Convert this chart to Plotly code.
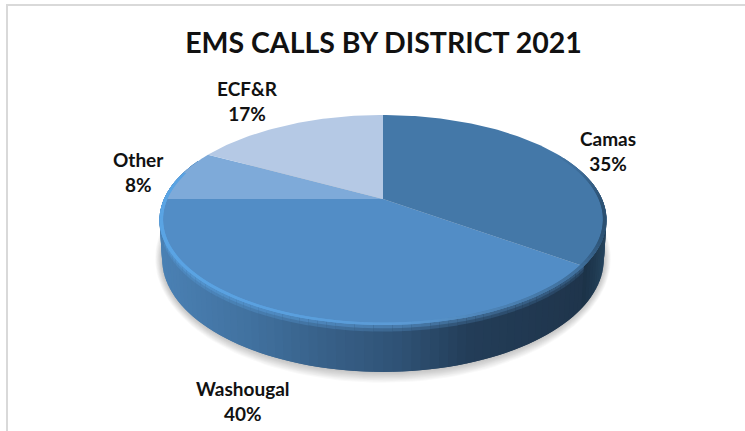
import numpy as np
import plotly.graph_objects as go

# Call shares per district, clockwise from twelve o'clock
districts = ["Camas", "Washougal", "Other", "ECF&R"]
shares = [35, 40, 8, 17]
chart_title = "EMS CALLS BY DISTRICT 2021"

# Styling and placement, kept apart from the data
top_colors = ["#4478a8", "#528dc6", "#7eaad9", "#b5c9e5"]
label_centers = [(608, 151), (243, 401), (138, 172), (247, 101)]
FONT = "Lato"
WIDTH, HEIGHT = 745, 431

# Tilted disc: a circle seen through a simple perspective divide
CX, CY = 383.0, 199.0
RX, RY, PERSP = 219.0, 100.8, 0.2
DEPTH = 37.5


def project(theta_deg, radius=1.0, drop=0.0):
    t = np.radians(theta_deg)
    u, v = radius * np.sin(t), -radius * np.cos(t)
    w = 1 - PERSP * v
    x = CX + RX * u / w * (1 - 0.012 * drop)
    y = CY + RY * v / w + drop * DEPTH / w
    return x, y


def hex_rgb(h):
    return np.array([int(h[i:i + 2], 16) for i in (1, 3, 5)], dtype=float)


def ramp(x, stops):
    xs = [s[0] for s in stops]
    rgb = np.array([hex_rgb(s[1]) for s in stops])
    return np.array([np.interp(x, xs, rgb[:, i]) for i in range(3)])


def css(rgb):
    return "rgb(%d,%d,%d)" % tuple(int(round(float(c))) for c in rgb)


front_wall = [(163, "#4a80b3"), (250, "#41719f"), (330, "#375f87"),
              (400, "#2f5275"), (470, "#233d58"), (580, "#1f354c")]
side_wall = [(580, "#1a2f43"), (595, "#1f3950"), (607, "#26455f")]
rim_stops = [(160, "#5aa4e4"), (300, "#5a9fdd"), (400, "#5b9ad4"),
             (480, "#4f86b9"), (580, "#3f6f9c"), (607, "#2b4f70")]

fig = go.Figure()


def add_poly(xs, ys, color, opacity=1.0):
    fig.add_trace(go.Scatter(
        x=xs, y=ys, mode="lines", fill="toself", fillcolor=color,
        opacity=opacity, hoverinfo="skip", showlegend=False,
        line=dict(color=color, width=0),
    ))


def band(a, b, top, bottom, color):
    # One quad of the wall between two angles and two heights
    span = np.array([a, b])
    xa, ya = project(span, drop=top)
    xb, yb = project(span[::-1], drop=bottom)
    add_poly(list(xa) + list(xb), list(ya) + list(yb), color)


# Soft drop shadow under the disc
ring = np.linspace(0, 360, 181)
bx, by = project(ring, drop=1.0)
for grow in np.linspace(1.0, 0.1, 10):
    sx = 383 + (bx - 383) * (1 + 7.0 * grow / 220)
    sy = 266 + (by - 266) * (1 + 11.0 * grow / 107)
    add_poly(sx, sy, "#000000", opacity=0.022)

# Side wall: each strip runs under the next one, which keeps seams from showing
seam = shares[0] / sum(shares) * 360
STEP = 2.0
angles = np.arange(70, 292, STEP)
for a in angles:
    b = a + 2 * STEP
    mid = float(project(a + STEP / 2)[0])
    on_side = a + STEP / 2 < seam
    wall = ramp(mid, side_wall if on_side else front_wall)
    glow = ramp(mid, rim_stops)
    band(a, b, 0.0, 1.0, css(wall))
    # The lit bevel only runs along the large front wedge
    if not on_side:
        band(a, b, 0.0, 0.14, css(wall * 0.72 + glow * 0.28))
        band(a, b, 0.0, 0.07, css(wall * 0.42 + glow * 0.58))

# Top face, one wedge per district
start = 0.0
for share, color in zip(shares, top_colors):
    sweep = share / sum(shares) * 360
    arc = np.linspace(start, start + sweep, max(int(sweep), 8) + 1)
    ax, ay = project(arc)
    add_poly([CX] + list(ax) + [CX], [CY] + list(ay) + [CY], color)
    start += sweep

# Highlight along the bevelled rim of the top face
for a in np.arange(62, 284, STEP):
    span = np.array([a, a + 2 * STEP])
    ox, oy = project(span, radius=1.0)
    ix, iy = project(span[::-1], radius=0.985)
    add_poly(list(ox) + list(ix), list(oy) + list(iy),
             css(ramp(float(np.mean(ox)), rim_stops)))

# District name and share above each other beside the disc
annotations = [
    dict(x=x, y=y, xref="x", yref="y", showarrow=False, align="center",
         text=f"<b>{name}<br>{share}%</b>",
         font=dict(family=FONT, size=19, color="#111111"))
    for name, share, (x, y) in zip(districts, shares, label_centers)
]

# Frame along the top and left of the chart area
shapes = [
    dict(type="line", x0=6, x1=745, y0=5, y1=5, xref="x", yref="y",
         line=dict(color="#d9d9d9", width=2)),
    dict(type="line", x0=7, x1=7, y0=5, y1=431, xref="x", yref="y",
         line=dict(color="#d9d9d9", width=2)),
]

fig.update_layout(
    width=WIDTH, height=HEIGHT,
    margin=dict(l=0, r=0, t=0, b=0),
    paper_bgcolor="white", plot_bgcolor="white",
    showlegend=False,
    title=dict(text=f"<b>{chart_title}</b>", x=383.5 / WIDTH, xanchor="center",
               y=1 - 43.5 / HEIGHT, yanchor="middle",
               font=dict(family=FONT, size=28.5, color="#111111")),
    xaxis=dict(range=[0, WIDTH], visible=False, fixedrange=True),
    yaxis=dict(range=[HEIGHT, 0], visible=False, fixedrange=True),
    annotations=annotations, shapes=shapes,
)

fig.write_html("out.html", config=dict(displayModeBar=False))
